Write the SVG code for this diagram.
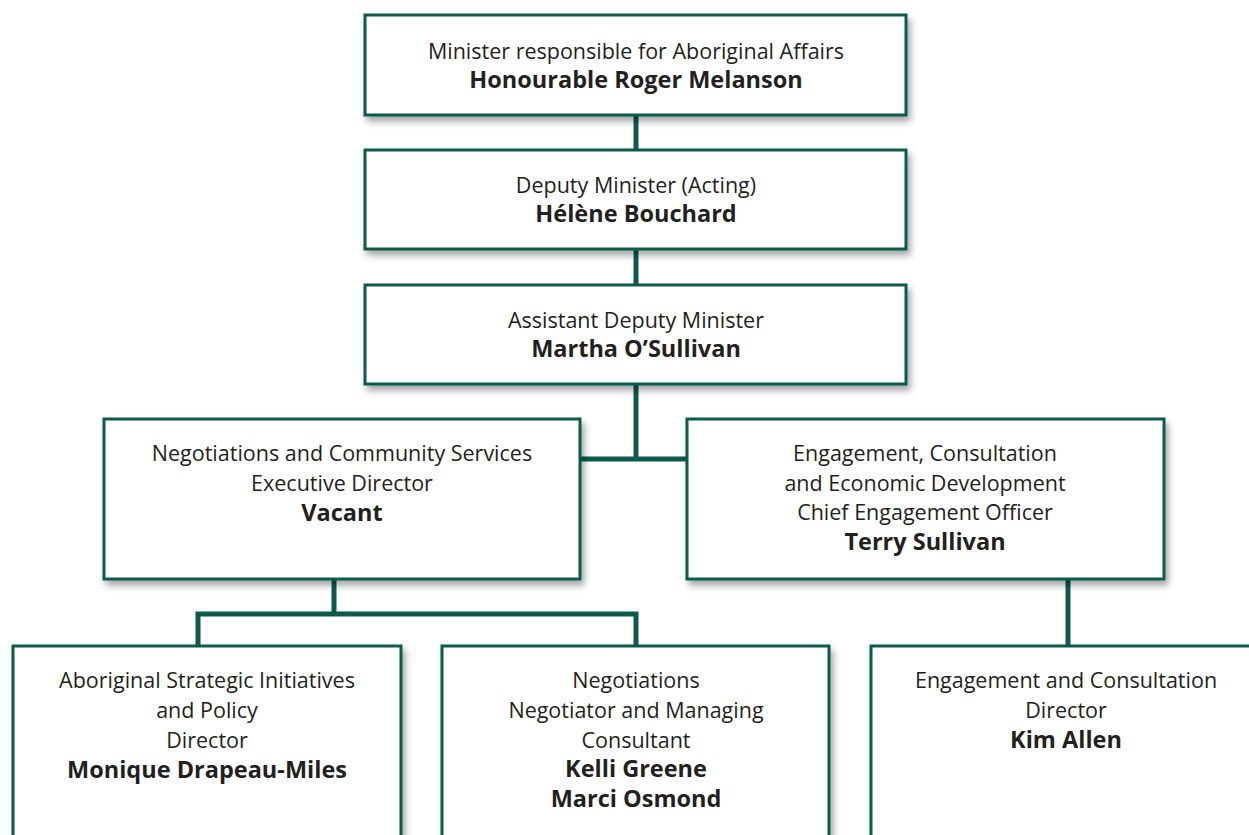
<svg xmlns="http://www.w3.org/2000/svg" width="1249" height="835" viewBox="0 0 1249 835">
<style>
.box{fill:#fff;stroke:#0b5b4b;stroke-width:3;filter:url(#sh)}
.t{font-family:"Open Sans","Liberation Sans",sans-serif;font-size:21.5px;fill:#231f20;text-anchor:middle}
.b{font-weight:bold;font-size:23.5px}
.c{fill:none;stroke:#0b5b4b;stroke-width:5}
</style>
<defs>
<filter id="sh" x="-10%" y="-10%" width="130%" height="140%">
<feDropShadow dx="3" dy="5" stdDeviation="3.5" flood-color="#000" flood-opacity="0.35"/>
</filter>
</defs>
<rect width="1249" height="835" fill="#fff"/>
<g id="connectors">
<path class="c" d="M636 115V150M636 249V285M636 384V459M580 459H687M334 579V614M198 646V614H636V646M1068 579V646"/>
</g>
<g id="n1"><rect class="box" x="365" y="15" width="541" height="100"/>
<text class="t" x="636" y="59">Minister responsible for Aboriginal Affairs</text>
<text class="t b" x="636" y="88">Honourable Roger Melanson</text></g>
<g id="n2"><rect class="box" x="365" y="150" width="541" height="99"/>
<text class="t" x="636" y="193">Deputy Minister (Acting)</text>
<text class="t b" x="636" y="222">Hélène Bouchard</text></g>
<g id="n3"><rect class="box" x="365" y="285" width="541" height="99"/>
<text class="t" x="636" y="328">Assistant Deputy Minister</text>
<text class="t b" x="636" y="357">Martha O’Sullivan</text></g>
<g id="n4"><rect class="box" x="104" y="419" width="476" height="160"/>
<text class="t" x="342" y="461">Negotiations and Community Services</text>
<text class="t" x="342" y="491">Executive Director</text>
<text class="t b" x="342" y="521">Vacant</text></g>
<g id="n5"><rect class="box" x="687" y="419" width="477" height="160"/>
<text class="t" x="925" y="461">Engagement, Consultation</text>
<text class="t" x="925" y="491">and Economic Development</text>
<text class="t" x="925" y="520">Chief Engagement Officer</text>
<text class="t b" x="925" y="550">Terry Sullivan</text></g>
<g id="n6"><rect class="box" x="13" y="646" width="388" height="200"/>
<text class="t" x="207" y="688">Aboriginal Strategic Initiatives</text>
<text class="t" x="207" y="718">and Policy</text>
<text class="t" x="207" y="748">Director</text>
<text class="t b" x="207" y="778">Monique Drapeau-Miles</text></g>
<g id="n7"><rect class="box" x="442" y="646" width="387" height="200"/>
<text class="t" x="636" y="688">Negotiations</text>
<text class="t" x="636" y="718">Negotiator and Managing</text>
<text class="t" x="636" y="748">Consultant</text>
<text class="t b" x="636" y="777">Kelli Greene</text>
<text class="t b" x="636" y="807">Marci Osmond</text></g>
<g id="n8"><rect class="box" x="871" y="646" width="390" height="200"/>
<text class="t" x="1066" y="688">Engagement and Consultation</text>
<text class="t" x="1066" y="718">Director</text>
<text class="t b" x="1066" y="748">Kim Allen</text></g>
</svg>
